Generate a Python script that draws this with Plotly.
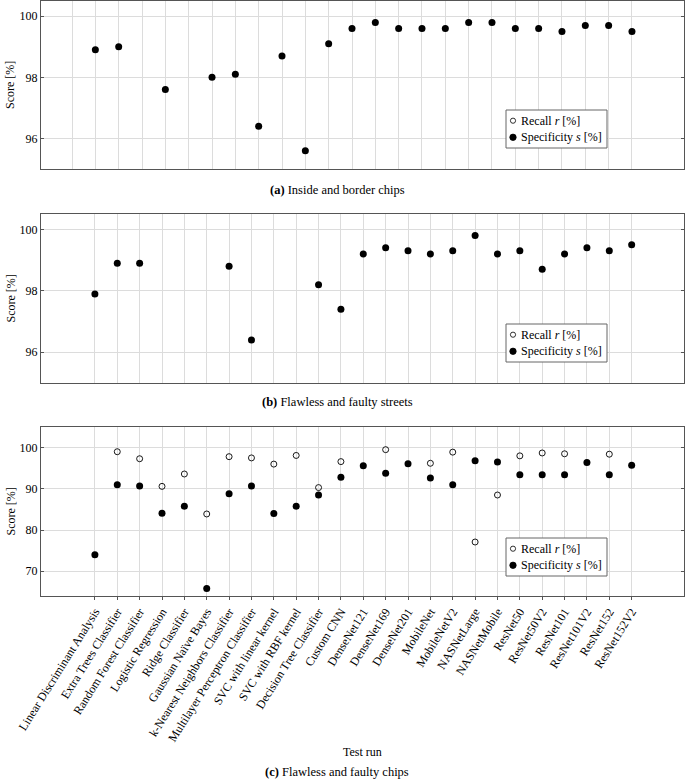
import plotly.graph_objects as go

categories = [
    "Linear Discriminant Analysis", "Extra Trees Classifier", "Random Forest Classifier",
    "Logistic Regression", "Ridge Classifier", "Gaussian Naïve Bayes",
    "k-Nearest Neighbors Classifier", "Multilayer Perceptron Classifier",
    "SVC with linear kernel", "SVC with RBF kernel", "Decision Tree Classifier",
    "Custom CNN", "DenseNet121", "DenseNet169", "DenseNet201", "MobileNet",
    "MobileNetV2", "NASNetLarge", "NASNetMobile", "ResNet50", "ResNet50V2",
    "ResNet101", "ResNet101V2", "ResNet152", "ResNet152V2",
]

# (a) Inside and border chips
spec_a = [None, 98.9, 99.0, None, 97.6, None, 98.0, 98.1, 96.4, 98.7, 95.6, 99.1, 99.6,
          99.8, 99.6, 99.6, 99.6, 99.8, 99.8, 99.6, 99.6, 99.5, 99.7, 99.7, 99.5]
recall_a = [None] * 25

# (b) Flawless and faulty streets
spec_b = [97.9, 98.9, 98.9, None, None, None, 98.8, 96.4, None, None, 98.2, 97.4, 99.2,
          99.4, 99.3, 99.2, 99.3, 99.8, 99.2, 99.3, 98.7, 99.2, 99.4, 99.3, 99.5]
recall_b = [None] * 25

# (c) Flawless and faulty chips
recall_c = [None, 99.0, 97.3, 90.6, 93.6, 83.9, 97.8, 97.5, 96.0, 98.1, 90.3, 96.6, None,
            99.5, None, 96.2, 98.9, 77.1, 88.5, 98.0, 98.7, 98.5, None, 98.4, None]
spec_c = [74.0, 91.0, 90.7, 84.1, 85.8, 65.8, 88.8, 90.7, 84.0, 85.8, 88.5, 92.8, 95.6,
          93.8, 96.1, 92.6, 91.0, 96.8, 96.5, 93.4, 93.4, 93.4, 96.4, 93.4, 95.7]

series_names = ["Recall <i>r</i> [%]", "Specificity <i>s</i> [%]"]
captions = ["<b>(a)</b> Inside and border chips",
            "<b>(b)</b> Flawless and faulty streets",
            "<b>(c)</b> Flawless and faulty chips"]

W, H = 685, 779
ML, MR, MT, MB = 41, 1, 1, 0
PH = H - MT - MB
PW = W - ML - MR


def py(px):
    return (H - MB - px) / PH


def pxx(px):
    return (px - ML) / PW


FONT = "Liberation Serif"
AX = "#555555"
GRID = "#dcdcdc"

panels = [
    dict(recall=recall_a, spec=spec_a, top=1, bot=169, yr=[95, 100.5], yt=[96, 98, 100],
         xr=[-1.33, 26.23], leg_top=110, cap=190),
    dict(recall=recall_b, spec=spec_b, top=214, bot=383, yr=[95, 100.5], yt=[96, 98, 100],
         xr=[-2.41, 26.34], leg_top=324, cap=402),
    dict(recall=recall_c, spec=spec_c, top=427, bot=596, yr=[64, 105], yt=[70, 80, 90, 100],
         xr=[-2.41, 26.34], leg_top=538, cap=772),
]

fig = go.Figure()
xs = list(range(len(categories)))
annotations = []
shapes = []
layout = {}
for k, p in enumerate(panels):
    n = "" if k == 0 else str(k + 1)
    fig.add_trace(go.Scatter(
        x=xs, y=p["recall"], mode="markers", name=series_names[0],
        marker=dict(symbol="circle-open", size=6, color="black", line=dict(width=0.9)),
        xaxis="x" + n, yaxis="y" + n, showlegend=False, cliponaxis=False,
        hovertext=categories))
    fig.add_trace(go.Scatter(
        x=xs, y=p["spec"], mode="markers", name=series_names[1],
        marker=dict(symbol="circle", size=7, color="black"),
        xaxis="x" + n, yaxis="y" + n, showlegend=False, cliponaxis=False,
        hovertext=categories))
    last = k == 2
    layout["xaxis" + n] = dict(
        domain=[0, 1], anchor="y" + n, range=p["xr"], tickmode="array",
        tickvals=xs, ticktext=categories if last else [""] * len(xs),
        showticklabels=last, tickangle=-58 if last else 0, automargin=False,
        tickfont=dict(family=FONT, size=12, color="black"),
        showgrid=True, gridcolor=GRID, gridwidth=1, zeroline=False,
        showline=True, linecolor=AX, linewidth=1, mirror=True,
        ticks="outside" if last else "", ticklen=3, tickcolor=AX)
    layout["yaxis" + n] = dict(
        domain=[py(p["bot"]), py(p["top"])], anchor="x" + n, range=p["yr"],
        tickmode="array", tickvals=p["yt"], ticktext=[str(v) for v in p["yt"]],
        tickfont=dict(family=FONT, size=12, color="black"), automargin=False,
        showgrid=True, gridcolor=GRID, gridwidth=1, zeroline=False,
        showline=True, linecolor=AX, linewidth=1, mirror="ticks",
        ticks="inside", ticklen=3, tickcolor=AX)

    # legend box (drawn in paper space)
    lt = p["leg_top"]
    shapes.append(dict(type="rect", xref="paper", yref="paper",
                       x0=pxx(506), x1=pxx(607), y0=py(lt + 38), y1=py(lt),
                       line=dict(color="#666666", width=1), fillcolor="white",
                       layer="above"))
    for j, (sym_fill, dy) in enumerate([(False, 10.7), (True, 27.3)]):
        r = 2.6 if not sym_fill else 3.2
        shapes.append(dict(type="circle", xref="paper", yref="paper",
                           xsizemode="pixel", ysizemode="pixel",
                           xanchor=pxx(513), yanchor=py(lt + dy),
                           x0=-r, x1=r, y0=-r, y1=r,
                           line=dict(color="black", width=0.8),
                           fillcolor="black" if sym_fill else "white",
                           layer="above"))
        annotations.append(dict(
            text=series_names[j], xref="paper", yref="paper",
            x=pxx(518.5), y=py(lt + dy), xanchor="left", yanchor="middle",
            showarrow=False, font=dict(family=FONT, size=12, color="black")))

    annotations.append(dict(
        text="Score [%]", textangle=-90, xref="paper", yref="paper",
        x=0, xshift=-31, y=(py(p["bot"]) + py(p["top"])) / 2,
        showarrow=False, font=dict(family=FONT, size=12, color="black"),
        xanchor="center", yanchor="middle"))
    annotations.append(dict(
        text=captions[k], xref="paper", yref="paper", x=pxx(337), y=py(p["cap"]),
        showarrow=False, font=dict(family=FONT, size=12.5, color="black"),
        xanchor="center", yanchor="middle"))

annotations.append(dict(
    text="Test run", xref="paper", yref="paper", x=pxx(362), y=py(752),
    showarrow=False, font=dict(family=FONT, size=12, color="black"),
    xanchor="center", yanchor="middle"))

fig.update_layout(
    width=W, height=H, margin=dict(l=ML, r=MR, t=MT, b=MB),
    paper_bgcolor="white", plot_bgcolor="white", showlegend=False,
    font=dict(family=FONT, size=12, color="black"),
    annotations=annotations, shapes=shapes, **layout)

fig.write_html("out.html", config={"displayModeBar": False},
               post_script="document.body.style.margin='0px';")
